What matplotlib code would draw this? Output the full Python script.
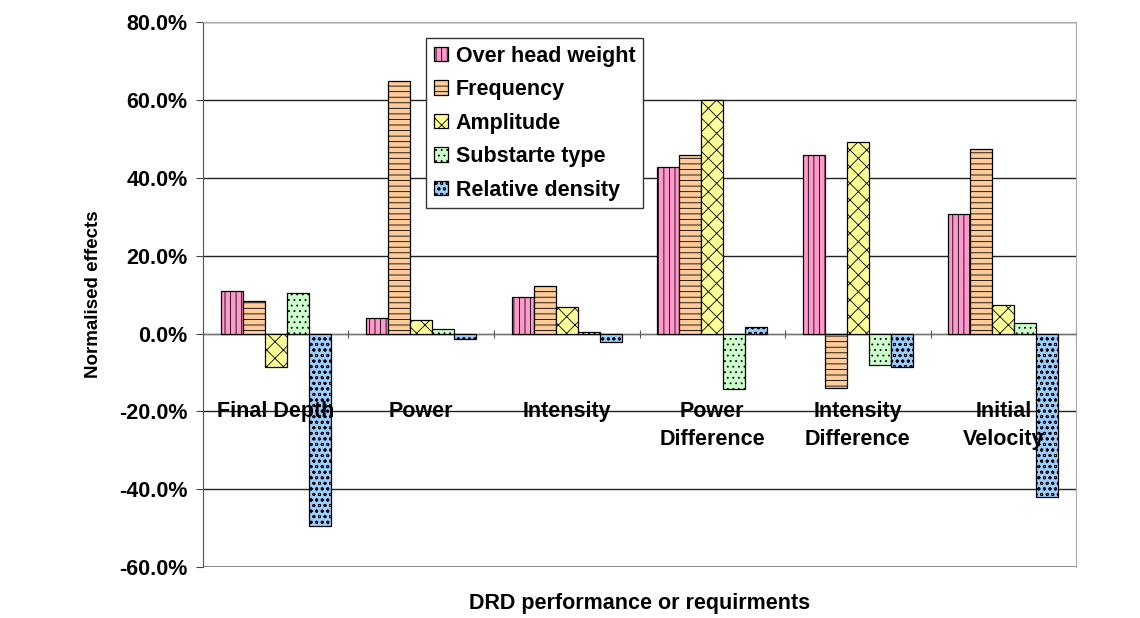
import numpy as np
import matplotlib.pyplot as plt
from matplotlib.ticker import FuncFormatter

plt.rcParams['font.family'] = ['Liberation Sans', 'DejaVu Sans']
plt.rcParams['font.weight'] = 'bold'
plt.rcParams['hatch.linewidth'] = 0.6

categories = ["Final Depth", "Power", "Intensity", "Power\nDifference",
              "Intensity\nDifference", "Initial\nVelocity"]
series = ["Over head weight", "Frequency", "Amplitude", "Substarte type", "Relative density"]

over_head = [0.110, 0.040, 0.095, 0.428, 0.460, 0.307]
frequency = [0.083, 0.650, 0.123, 0.460, -0.140, 0.475]
amplitude = [-0.085, 0.035, 0.069, 0.600, 0.491, 0.074]
substrate = [0.103, 0.012, 0.004, -0.142, -0.080, 0.026]
rel_density = [-0.495, -0.015, -0.022, 0.017, -0.086, -0.421]

values = [over_head, frequency, amplitude, substrate, rel_density]
colors = ['#FF99CC', '#FFCC99', '#FFFF99', '#CCFFCC', '#99CCFF']
hatches = ['|||', '---', 'xx', '...', 'ooo']

fig = plt.figure(figsize=(11.4, 6.18), dpi=100)
ax = fig.add_axes([0.178, 0.0825, 0.766, 0.8815])

x = np.arange(len(categories))
w = 0.151
for i, (vals, col, h) in enumerate(zip(values, colors, hatches)):
    ax.bar(x - 2 * w + i * w, vals, w, color=col, edgecolor='black', hatch=h,
           linewidth=0.9, label=series[i], zorder=3)

ax.set_xlim(-0.5, len(categories) - 0.5)
ax.set_ylim(-0.6, 0.8)
ax.set_yticks(np.arange(-0.6, 0.81, 0.2))
ax.yaxis.set_major_formatter(FuncFormatter(lambda v, p: f"{v*100:.1f}%"))
ax.tick_params(axis='y', labelsize=15.5, length=5, color='#444444', pad=6)
ax.grid(axis='y', color='#222222', linewidth=1.0, zorder=0)

# x axis crosses at zero, ticks at category boundaries
ax.spines['bottom'].set_position(('data', 0))
ax.spines['bottom'].set_color('#777777')
ax.set_xticks(np.arange(-0.5, len(categories), 1.0))
ax.set_xticklabels([])
ax.tick_params(axis='x', length=6, direction='inout', color='#555555')
ax.spines['left'].set_color('#555555')
ax.spines['right'].set_color('#aaaaaa')
ax.spines['top'].set_color('#aaaaaa')
ax.axhline(-0.6, color='#aaaaaa', linewidth=1.5, zorder=1)

for xi, name in zip(x, categories):
    ax.text(xi, -0.174, name, ha='center', va='top', fontsize=15.5,
            fontweight='bold', linespacing=1.42, zorder=4)

ax.set_ylabel("Normalised effects", fontsize=13.5, fontweight='bold')
ax.yaxis.set_label_coords(-0.115, 0.5)
fig.text(0.561, 0.006, "DRD performance or requirments", ha='center', va='bottom',
         fontsize=15.5, fontweight='bold')

leg = ax.legend(loc='upper left', bbox_to_anchor=(0.256, 0.971), fontsize=15.5,
                handlelength=0.65, handleheight=0.65, handletextpad=0.35,
                labelspacing=0.58, borderpad=0.35, borderaxespad=0, fancybox=False,
                edgecolor='#333333', framealpha=1)
leg.get_frame().set_linewidth(1.0)
leg.set_zorder(5)

fig.savefig("out.png", dpi=100)
